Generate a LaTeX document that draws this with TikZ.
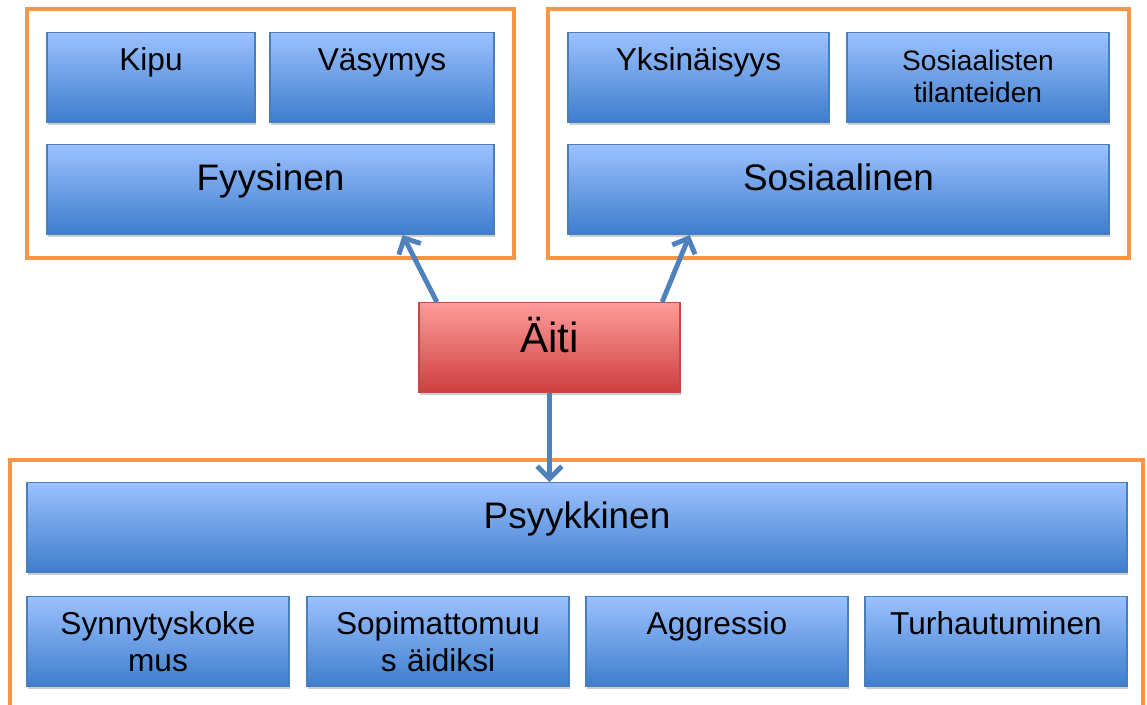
\documentclass[tikz,border=0pt]{standalone}
\usepackage{fontspec}
\setmainfont{Liberation Sans}
\usetikzlibrary{arrows.meta,shadows,fit}

\definecolor{boxtop}{RGB}{155,193,255}
\definecolor{boxbot}{RGB}{62,125,204}
\definecolor{boxline}{RGB}{74,126,187}
\definecolor{momtop}{RGB}{255,155,155}
\definecolor{mombot}{RGB}{206,62,62}
\definecolor{momline}{RGB}{190,75,72}
\definecolor{frameline}{RGB}{247,150,70}
\definecolor{arrowline}{RGB}{79,129,189}

\tikzset{
  box/.style={draw=boxline, line width=0.8pt, top color=boxtop, bottom color=boxbot,
    anchor=north, align=center, inner xsep=0pt, inner ysep=0pt, text width=#1*0.02cm,
    drop shadow={shadow xshift=0.4pt, shadow yshift=-1.8pt, fill=black!20, opacity=1}},
  sbox/.style={box=#1, font=\fontsize{18}{21}\selectfont, text height=21.5pt, text depth=29.5pt},
  tbox/.style={box=#1, font=\fontsize{16}{18.5}\selectfont, text height=21.5pt, text depth=29.5pt},
  bbox/.style={box=#1, font=\fontsize{21}{25}\selectfont, text height=26pt, text depth=25pt},
  mom/.style={box=#1, draw=momline, top color=momtop, bottom color=mombot,
    font=\fontsize{24}{28}\selectfont, text height=28.3pt, text depth=22.7pt},
  group/.style={draw=frameline, line width=2.3pt, inner xsep=10.8pt, inner ysep=13pt},
  link/.style={draw=arrowline, line width=2.8pt, -{Straight Barb[length=7pt, width=14pt]}}
}

\begin{document}
\begin{tikzpicture}[x=0.02cm, y=-0.02cm]
\useasboundingbox (0,0) rectangle (1147,704);
\node [sbox=208] (kipu) at (151,32) {Kipu};
\node [sbox=224] (vasymys) at (382,32) {Väsymys};
\node [bbox=447] (fyys) at (270.5,144) {Fyysinen};
\node [sbox=261] (yksin) at (698.5,32) {Yksinäisyys};
\node [tbox=262] (tilan) at (978,32) {Sosiaalisten\\tilanteiden};
\node [bbox=541] (sosiaal) at (838.5,144) {Sosiaalinen};
\node [mom=261] (aiti) at (549.5,302) {Äiti};
\node [bbox=1100] (psyyk) at (577,482) {Psyykkinen};
\node [sbox=262] (synny) at (158,596) {Synnytyskoke\\mus};
\node [sbox=262] (sopim) at (438,596) {Sopimattomuu\\s äidiksi};
\node [sbox=262] (aggr) at (717,596) {Aggressio};
\node [sbox=262] (turh) at (996,596) {Turhautuminen};
\node [group, fit=(kipu)(vasymys)(fyys)] (fyysgroup) {};
\node [group, fit=(yksin)(tilan)(sosiaal)] (sosgroup) {};
\draw [frameline, line width=2.3pt] (10,460) rectangle (1143,740);
\draw [link] (aiti.158) -- (fyys.-19);
\draw [link] (aiti.22) -- (sosiaal.197.6);
\draw [link] (aiti.south) -- (aiti.south |- psyyk.north);
\end{tikzpicture}
\end{document}
